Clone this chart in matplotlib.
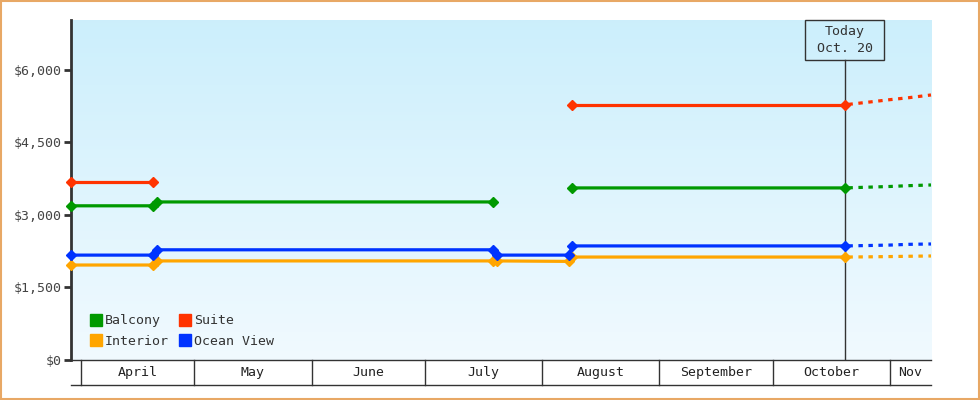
import numpy as np
import matplotlib
matplotlib.use("Agg")
import matplotlib.pyplot as plt
import matplotlib.dates as mdates
from matplotlib.lines import Line2D
from matplotlib.patches import Rectangle
from matplotlib.ticker import FuncFormatter
from datetime import datetime as dt

plt.rcParams['font.family'] = ['DejaVu Sans Mono']
plt.rcParams['lines.scale_dashes'] = False

# --- data -------------------------------------------------------------
x_start = dt(2014, 3, 29, 9)
x_end = dt(2014, 11, 11, 20)
today = dt(2014, 10, 20)

balcony_dates = [x_start, dt(2014, 4, 20), dt(2014, 4, 21), dt(2014, 7, 19), dt(2014, 8, 8, 12),
                 dt(2014, 8, 9), today]
balcony_vals = [3190, 3190, 3270, 3270, np.nan, 3560, 3560]

suite_dates = [x_start, dt(2014, 4, 20), dt(2014, 6, 1), dt(2014, 8, 9), today]
suite_vals = [3680, 3680, np.nan, 5280, 5280]

interior_dates = [x_start, dt(2014, 4, 20), dt(2014, 4, 21), dt(2014, 7, 19), dt(2014, 7, 20),
                  dt(2014, 8, 8), dt(2014, 8, 9), today]
interior_vals = [1965, 1965, 2050, 2050, 2050, 2040, 2130, 2130]

ocean_dates = [x_start, dt(2014, 4, 20), dt(2014, 4, 21), dt(2014, 7, 19), dt(2014, 7, 20),
               dt(2014, 8, 8), dt(2014, 8, 9), today]
ocean_vals = [2170, 2170, 2280, 2280, 2170, 2170, 2360, 2360]

forecast_dates = [today, dt(2014, 10, 26), dt(2014, 11, 1), dt(2014, 11, 6), x_end]
balcony_fc = [3560, 3575, 3590, 3607, 3621]
suite_fc = [5280, 5332, 5386, 5427, 5483]
interior_fc = [2130, 2134, 2140, 2146, 2152]
ocean_fc = [2360, 2368, 2378, 2393, 2400]

month_starts = [dt(2014, m, 1) for m in range(4, 12)]
month_labels = ['April', 'May', 'June', 'July', 'August', 'September', 'October', 'Nov']

series = [
    ('Balcony', '#009900', balcony_dates, balcony_vals, balcony_fc),
    ('Interior', '#ffa500', interior_dates, interior_vals, interior_fc),
    ('Suite', '#ff3300', suite_dates, suite_vals, suite_fc),
    ('Ocean View', '#0033ff', ocean_dates, ocean_vals, ocean_fc),
]

# --- figure -----------------------------------------------------------
fig = plt.figure(figsize=(9.8, 4), dpi=100)
fig.patch.set_facecolor('white')
fig.add_artist(Rectangle((0.001, 0.0015), 0.998, 0.997, transform=fig.transFigure,
                         fill=False, edgecolor='#e8a865', linewidth=1.5))

ax = fig.add_axes([71 / 980, 40 / 400, 860 / 980, 340 / 400])
ax.set_xlim(x_start, x_end)
ax.set_ylim(0, 7034)

# gradient background
grad = np.linspace(0, 1, 256).reshape(-1, 1)
top = np.array([0.80, 0.937, 0.988])
bot = np.array([0.945, 0.98, 1.0])
img = top * (1 - grad[:, :, None]) + bot * grad[:, :, None]
ax.imshow(img, extent=[0, 1, 0, 1], transform=ax.transAxes, aspect='auto', zorder=0)

for name, color, d, v, fc in series:
    ax.plot(d, v, color=color, lw=2.3, marker='D', ms=5.2, zorder=4, clip_on=False)
    ax.plot(forecast_dates, fc, color=color, lw=2.3, zorder=4,
            linestyle=(4.5, (3.2, 4.0)), clip_on=False)

# today line and box
xmin, xmax = mdates.date2num(x_start), mdates.date2num(x_end)
tfrac = (mdates.date2num(today) - xmin) / (xmax - xmin)
ax.plot([tfrac, tfrac], [0, 0.882], transform=ax.transAxes, color='#333333', lw=1, zorder=3)
bw = 79 / 860
ax.add_patch(Rectangle((tfrac - bw / 2, 0.882), bw, 0.118, transform=ax.transAxes,
                       fill=False, edgecolor='#333333', lw=1, zorder=5, clip_on=False))
ax.text(tfrac, 0.941, 'Today\nOct. 20', transform=ax.transAxes, ha='center', va='center',
        fontsize=9.5, color='#333333', linespacing=1.35, zorder=6)

# axes styling
for s in ['top', 'right']:
    ax.spines[s].set_visible(False)
ax.spines['left'].set_color('#333333')
ax.spines['left'].set_linewidth(2)
ax.spines['bottom'].set_color('#333333')
ax.spines['bottom'].set_linewidth(1)

ax.set_yticks([0, 1500, 3000, 4500, 6000])
ax.yaxis.set_major_formatter(FuncFormatter(lambda v, p: '${:,.0f}'.format(v)))
ax.tick_params(axis='y', length=5, width=2, color='#333333', labelsize=9.5,
               labelcolor='#444444', pad=2)
ax.set_xticks([])

# month boxes under the axis
trans = ax.get_xaxis_transform()
box_h = -25 / 340
ax.plot([0, 1], [box_h, box_h], transform=ax.transAxes, color='#333333', lw=1, clip_on=False)
for m in month_starts:
    ax.plot([m, m], [0, box_h], transform=trans, color='#333333', lw=1, clip_on=False)
edges = month_starts + [x_end]
for i, lab in enumerate(month_labels):
    mid = mdates.num2date((mdates.date2num(edges[i]) + mdates.date2num(edges[i + 1])) / 2)
    ax.text(mid, box_h / 2, lab, transform=trans, ha='center', va='center',
            fontsize=9.5, color='#222222')

# legend
handles = [Line2D([], [], marker='s', color=c, ls='none', ms=8) for _, c, *_ in series]
labels = [n for n, *_ in series]
leg = ax.legend(handles, labels, ncol=2, loc='lower left', bbox_to_anchor=(0.024, 0.035),
                frameon=False, handlelength=0.7, handletextpad=0.3, columnspacing=0.9,
                labelspacing=0.6, fontsize=9.5, borderpad=0, borderaxespad=0)
for t in leg.get_texts():
    t.set_color('#333333')

fig.savefig('out.png', dpi=100, facecolor='white')
